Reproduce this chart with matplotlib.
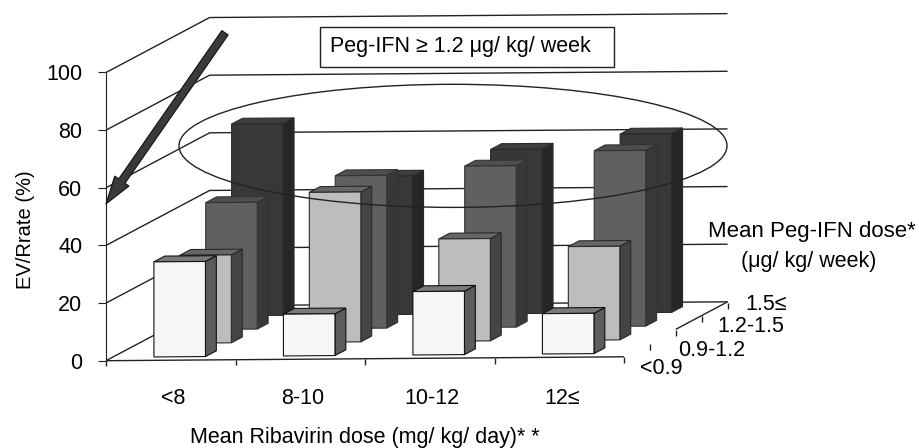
import matplotlib
matplotlib.use('Agg')
import matplotlib.pyplot as plt
from matplotlib.patches import Ellipse, Polygon, Rectangle

plt.rcParams['font.family'] = ['Liberation Sans', 'DejaVu Sans']

# EVR rate (%), one list per Peg-IFN dose, front row first
ribavirin = ['<8', '8-10', '10-12', '12≤']
peg_ifn = ['<0.9', '0.9-1.2', '1.2-1.5', '1.5≤']
under_09 = [33, 14.5, 22, 14]
from_09 = [30.5, 52, 35.5, 32.5]
from_12 = [44, 53, 56, 61]
over_15 = [66.5, 48, 57, 62]
y_ticks = [0, 20, 40, 60, 80, 100]

row_values = [under_09, from_09, from_12, over_15]
row_colors = [('#f6f6f6', '#5c5c5c', '#7a7a7a'),
              ('#bdbdbd', '#444444', '#666666'),
              ('#606060', '#383838', '#4e4e4e'),
              ('#383838', '#262626', '#3e3e3e')]
row_edges = ['#111111', '#2a2a2a', '#333333', '#2a2a2a']

# oblique view, per depth row and per category
DX = 0.2
DY = 4.7
TILT = 0.34
BAR_W = 0.398
BAR_D = 0.42
LINE = '#222222'


def project(c, d, v):
    return c + d * DX, v + d * DY + TILT * (c + d * DX)


def px(x, y):
    # picture pixels to data, for the notes drawn on top
    return (x - 106) / 129.5, (360.7 - y) / 2.88


def bar(c, d, h, colors, edge, z):
    x0, x1 = c + 0.32, c + 0.32 + BAR_W
    d0, d1 = d + 0.25, d + 0.25 + BAR_D
    front, side, top = colors
    faces = [([(x1, d0, 0), (x1, d1, 0), (x1, d1, h), (x1, d0, h)], side),
             ([(x0, d0, h), (x1, d0, h), (x1, d1, h), (x0, d1, h)], top),
             ([(x0, d0, 0), (x1, d0, 0), (x1, d0, h), (x0, d0, h)], front)]
    for pts, col in faces:
        ax.add_patch(Polygon([project(*p) for p in pts], closed=True, fc=col,
                             ec=edge, lw=0.8, zorder=z, clip_on=False))


def line(c, d, v, **kw):
    pts = [project(a, b, e) for a, b, e in zip(c, d, v)]
    ax.plot([p[0] for p in pts], [p[1] for p in pts], color=LINE, lw=1,
            clip_on=False, solid_capstyle='butt', **kw)


fig = plt.figure(figsize=(9.19, 4.48), dpi=100)
ax = fig.add_axes([106 / 919, 1 - 360.7 / 448, 518 / 919, 288.2 / 448])
ax.set_xlim(0, 4)
ax.set_ylim(0, 100)
ax.patch.set_visible(False)
for s in ['top', 'right', 'bottom']:
    ax.spines[s].set_visible(False)
ax.spines['left'].set_color(LINE)

ax.set_yticks(y_ticks)
ax.tick_params(axis='y', labelsize=15.5, length=6, color=LINE, pad=11)
ax.set_xticks([i + 0.52 for i in range(4)])
ax.set_xticklabels(ribavirin)
ax.tick_params(axis='x', labelsize=15.5, length=0, pad=20)
ax.set_ylabel('EV/Rrate (%)', fontsize=14.5)
ax.yaxis.set_label_coords(-0.138, 0.454)
ax.set_xlabel('Mean Ribavirin dose (mg/ kg/ day)* *', fontsize=15.5, va='center')
ax.xaxis.set_label_coords(0.5, -0.268)

# walls
for v in y_ticks:
    line([0, 0, 4], [0, 4, 4], [v, v, v], zorder=1)

# front axis and depth axis
line([0, 4], [0, 0], [0, 0], zorder=1)
for i in range(5):
    line([i, i], [0, 0], [0, -2], zorder=1)
line([4, 4], [2, 4], [0, 0], zorder=1)
for d in range(1, 5):
    line([4, 4], [d, d], [-0.3, -2.4], zorder=1)

for r in range(3, -1, -1):
    for c in range(4):
        bar(c, r, row_values[r][c], row_colors[r], row_edges[r], 10 - r)

# oval, arrow and notes over the bars
cx, cy = px(453, 146)
ax.add_patch(Ellipse((cx, cy), 548 / 129.5, 123 / 2.88, fill=False, ec=LINE,
                     lw=1, zorder=20, clip_on=False))
ax.annotate('', xy=px(106, 204), xytext=px(225, 33), annotation_clip=False, zorder=21,
            arrowprops=dict(width=5.5, headwidth=12.5, headlength=20, shrink=0,
                            fc='#3a3a3a', ec='#111111', lw=0.8))

x0, y0 = px(320, 67)
ax.add_patch(Rectangle((x0, y0), 294 / 129.5, 40 / 2.88, fc='white', ec=LINE, lw=1,
                       zorder=20, clip_on=False))
tx, ty = px(330, 47)
ax.text(tx, ty, 'Peg-IFN ≥ 1.2 μg/ kg/ week', fontsize=15.5, va='center', zorder=22, clip_on=False)

for label, xp, yp in zip(peg_ifn, [661, 712, 751, 766], [368, 351, 327, 305]):
    tx, ty = px(xp, yp)
    ax.text(tx, ty, label, fontsize=15.5, ha='center', va='center', zorder=22, clip_on=False)

tx, ty = px(812, 232)
ax.text(tx, ty, 'Mean Peg-IFN dose*', fontsize=16, ha='center', va='center', zorder=22, clip_on=False)
tx, ty = px(809, 262)
ax.text(tx, ty, '(μg/ kg/ week)', fontsize=15.5, ha='center', va='center', zorder=22, clip_on=False)

fig.savefig('out.png', dpi=100)
